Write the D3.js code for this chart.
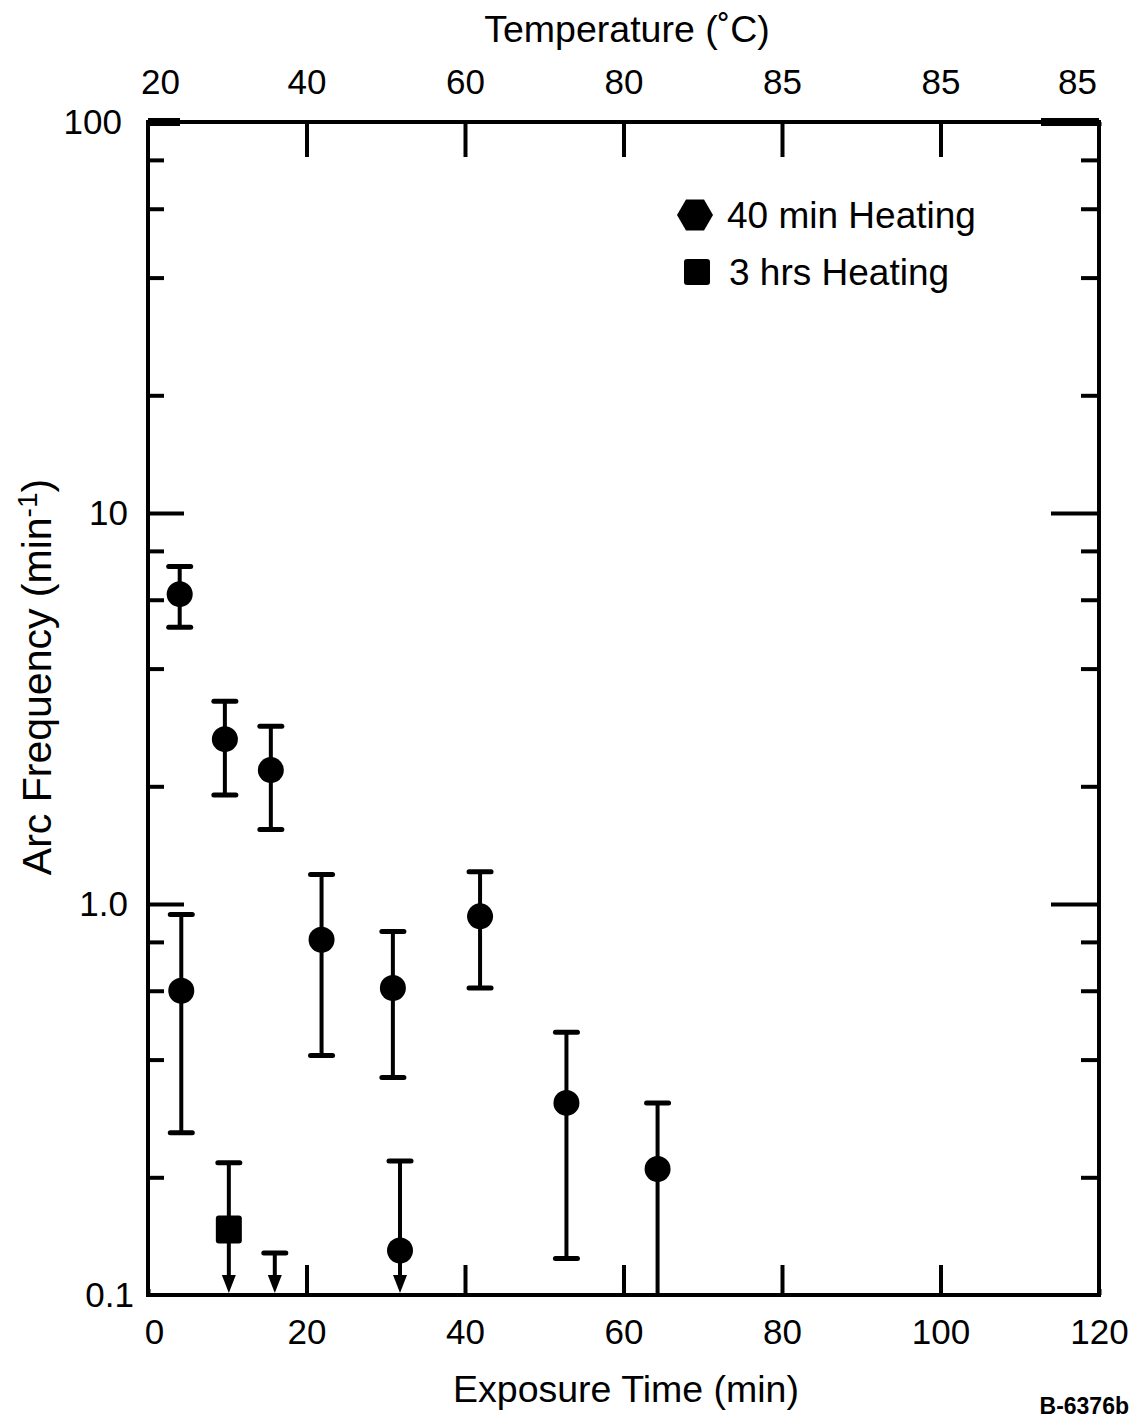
<!DOCTYPE html>
<html>
<head>
<meta charset="utf-8">
<script src="https://cdn.jsdelivr.net/npm/d3@7"></script>
<style>
  html, body { margin: 0; padding: 0; background: #fff; }
  svg { display: block; }
  text { font-family: "Liberation Sans", Arial, Helvetica, sans-serif; fill: #000; }
</style>
</head>
<body>
<svg id="chart" width="1134" height="1420"></svg>
<script>
// ---- Data ----
const xTickValues = [0, 20, 40, 60, 80, 100, 120];
const temperatureLabels = ["20", "40", "60", "80", "85", "85", "85"];
const yMajorTicks = [0.1, 1, 10, 100];
const yMajorLabels = ["0.1", "1.0", "10", "100"];
const yMinorTicks = [0.2, 0.4, 0.6, 0.8, 2, 4, 6, 8, 20, 40, 60, 80];

// 40 min Heating (circles)
const circleTime  = [4.0, 9.7, 15.5, 4.2, 21.9, 30.9, 41.9, 52.8, 64.3, 31.8];
const circleValue = [6.2, 2.64, 2.2, 0.6, 0.81, 0.61, 0.93, 0.31, 0.21, 0.13];
const circleUpper = [7.3, 3.3, 2.85, 0.94, 1.19, 0.85, 1.21, 0.47, 0.31, 0.22];
const circleLower = [5.1, 1.9, 1.55, 0.26, 0.41, 0.36, 0.61, 0.124, 0.1, 0.1];
const circleArrow = [false, false, false, false, false, false, false, false, false, true];

// 3 hrs Heating (squares); null value = upper limit only
const squareTime  = [10.2, 16.0];
const squareValue = [0.147, null];
const squareUpper = [0.218, 0.128];
const squareLower = [0.1, 0.1];
const squareArrow = [true, true];

const legendLabels = ["40 min Heating", "3 hrs Heating"];

// ---- Layout ----
const svg = d3.select("#chart");
const L = 148, R = 1099, T = 122, B = 1295;
const x = d3.scaleLinear().domain([0, 120]).range([L, R]);
const y = d3.scaleLog().domain([0.1, 100]).range([B, T]);

const fontSize = 35;

// frame
svg.append("rect").attr("x", L).attr("y", T).attr("width", R - L).attr("height", B - T)
  .attr("fill", "none").attr("stroke", "#000").attr("stroke-width", 4);

function styleAxis(g) {
  g.select(".domain").remove();
  g.selectAll(".tick line").attr("stroke", "#000").attr("stroke-width", 4);
  g.selectAll(".tick text").attr("font-size", fontSize)
    .style("font-family", "'Liberation Sans', Arial, sans-serif").attr("fill", "#000");
}

// bottom axis
svg.append("g").attr("transform", `translate(0,${B})`)
  .call(d3.axisBottom(x).tickValues(xTickValues).tickSize(-30).tickPadding(24).tickFormat(d3.format("d")))
  .call(styleAxis)
  .call(g => g.selectAll(".tick").filter(d => d === 0 || d === 120).select("line").attr("y2", -6))
  .call(g => g.selectAll(".tick").filter(d => d === 0).select("text").attr("dx", 6));

// top axis (temperature)
svg.append("g").attr("transform", `translate(0,${T})`)
  .call(d3.axisTop(x).tickValues(xTickValues).tickSize(-35).tickPadding(28)
    .tickFormat((d, i) => temperatureLabels[i]))
  .call(styleAxis)
  .call(g => g.selectAll(".tick").filter(d => d === 0 || d === 120).select("line").attr("y2", 4))
  .call(g => g.selectAll(".tick").filter(d => d === 0).select("text").attr("dx", 12))
  .call(g => g.selectAll(".tick").filter(d => d === 120).select("text").attr("dx", -22));

// thick corner segments on top frame
svg.append("line").attr("x1", L).attr("x2", L + 32).attr("y1", T).attr("y2", T)
  .attr("stroke", "#000").attr("stroke-width", 8);
svg.append("line").attr("x1", R - 58).attr("x2", R).attr("y1", T).attr("y2", T)
  .attr("stroke", "#000").attr("stroke-width", 8);

// left axis: major
svg.append("g").attr("transform", `translate(${L},0)`)
  .call(d3.axisLeft(y).tickValues(yMajorTicks).tickSize(-36).tickPadding(20)
    .tickFormat((d, i) => yMajorLabels[i]))
  .call(styleAxis)
  .call(g => g.selectAll(".tick").filter(d => d === 100 || d === 0.1).select("line").attr("x2", 0))
  .call(g => g.selectAll(".tick").filter(d => d === 100).select("text").attr("dx", -6))
  .call(g => g.selectAll(".tick").filter(d => d === 0.1).select("text").attr("dx", 6));
// left minor
svg.append("g").attr("transform", `translate(${L},0)`)
  .call(d3.axisLeft(y).tickValues(yMinorTicks).tickSize(-16).tickFormat(""))
  .call(styleAxis);

// right axis
svg.append("g").attr("transform", `translate(${R},0)`)
  .call(d3.axisRight(y).tickValues([1, 10]).tickSize(-48).tickFormat(""))
  .call(styleAxis);
svg.append("g").attr("transform", `translate(${R},0)`)
  .call(d3.axisRight(y).tickValues(yMinorTicks).tickSize(-18).tickFormat(""))
  .call(styleAxis);

// ---- Titles ----
svg.append("text").attr("x", 627).attr("y", 42).attr("text-anchor", "middle")
  .attr("font-size", 37.5).text("Temperature (˚C)");
svg.append("text").attr("x", 626).attr("y", 1402).attr("text-anchor", "middle")
  .attr("font-size", 37.5).text("Exposure Time (min)");
const yt = svg.append("text").attr("transform", "translate(51,677) rotate(-90)")
  .attr("text-anchor", "middle").attr("font-size", 41);
yt.append("tspan").text("Arc Frequency (min");
yt.append("tspan").attr("font-size", 28).attr("dy", -14).text("-1");
yt.append("tspan").attr("dy", 14).text(")");
svg.append("text").attr("x", 1129).attr("y", 1414).attr("text-anchor", "end")
  .attr("font-size", 23).attr("font-weight", "bold").text("B-6376b");

// ---- Data marks ----
const capW = 22;
const plot = svg.append("g");

function drawSeries(times, values, upper, lower, arrows, shape) {
  times.forEach((t, i) => {
    const cx = x(t);
    const g = plot.append("g");
    const bottom = arrows[i] ? y(0.1) - 12 : y(lower[i]);
    g.append("line").attr("x1", cx).attr("x2", cx).attr("y1", y(upper[i])).attr("y2", bottom)
      .attr("stroke", "#000").attr("stroke-width", 4);
    g.append("line").attr("x1", cx - capW / 2).attr("x2", cx + capW / 2)
      .attr("y1", y(upper[i])).attr("y2", y(upper[i]))
      .attr("stroke", "#000").attr("stroke-width", 5).attr("stroke-linecap", "round");
    if (!arrows[i] && lower[i] > 0.1) {
      g.append("line").attr("x1", cx - capW / 2).attr("x2", cx + capW / 2)
        .attr("y1", y(lower[i])).attr("y2", y(lower[i]))
        .attr("stroke", "#000").attr("stroke-width", 5).attr("stroke-linecap", "round");
    }
    if (arrows[i]) {
      const tip = y(0.1) - 2;
      g.append("path").attr("d", `M${cx - 7},${tip - 18} L${cx + 7},${tip - 18} L${cx},${tip} Z`)
        .attr("fill", "#000");
    }
    if (values[i] != null) {
      const cy = y(values[i]);
      if (shape === "circle") {
        g.append("circle").attr("cx", cx).attr("cy", cy).attr("r", 13).attr("fill", "#000");
      } else {
        g.append("rect").attr("x", cx - 13).attr("y", cy - 14).attr("width", 26).attr("height", 28)
          .attr("rx", 3).attr("fill", "#000");
      }
    }
  });
}
drawSeries(circleTime, circleValue, circleUpper, circleLower, circleArrow, "circle");
drawSeries(squareTime, squareValue, squareUpper, squareLower, squareArrow, "square");

// ---- Legend ----
const hex = d3.range(6).map(k => {
  const a = Math.PI / 3 * k;
  return [695 + 18 * Math.cos(a), 215 + 18 * Math.sin(a)];
});
svg.append("path").attr("d", "M" + hex.join("L") + "Z").attr("fill", "#000");
svg.append("text").attr("x", 727).attr("y", 228).attr("font-size", 37).text(legendLabels[0]);
svg.append("rect").attr("x", 684).attr("y", 259).attr("width", 26).attr("height", 26).attr("rx", 3)
  .attr("fill", "#000");
svg.append("text").attr("x", 729).attr("y", 285).attr("font-size", 37).text(legendLabels[1]);
</script>
</body>
</html>
